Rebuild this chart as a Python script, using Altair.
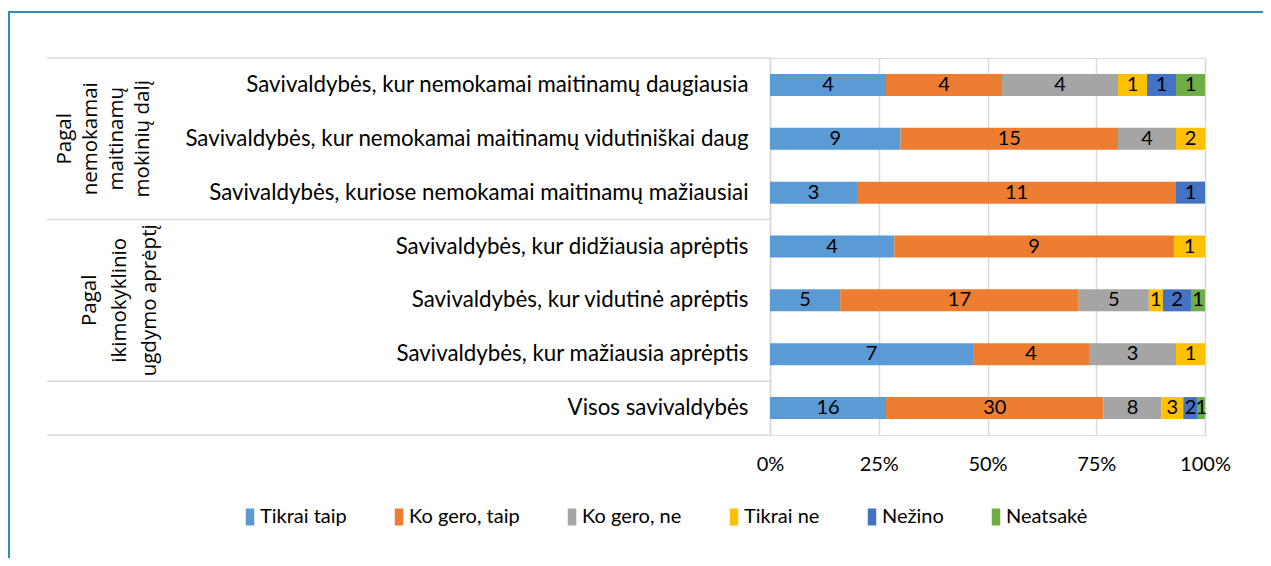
import altair as alt
import pandas as pd

rows = [
    "Savivaldybės, kur nemokamai maitinamų daugiausia",
    "Savivaldybės, kur nemokamai maitinamų vidutiniškai daug",
    "Savivaldybės, kuriose nemokamai maitinamų mažiausiai",
    "Savivaldybės, kur didžiausia aprėptis",
    "Savivaldybės, kur vidutinė  aprėptis",
    "Savivaldybės, kur mažiausia aprėptis",
    "Visos savivaldybės",
]
answers = ["Tikrai taip", "Ko gero, taip", "Ko gero, ne", "Tikrai ne", "Nežino", "Neatsakė"]
colors = ["#5B9BD5", "#ED7D31", "#A5A5A5", "#FFC000", "#4472C4", "#70AD47"]

tikrai_taip = [4, 9, 3, 4, 5, 7, 16]
ko_gero_taip = [4, 15, 11, 9, 17, 4, 30]
ko_gero_ne = [4, 4, 0, 0, 5, 3, 8]
tikrai_ne = [1, 2, 0, 1, 1, 1, 3]
nezino = [1, 0, 1, 0, 2, 0, 2]
neatsake = [1, 0, 0, 0, 1, 0, 1]

group1 = "Pagal\nnemokamai\nmaitinamų\nmokinių dalį"
group2 = "Pagal\nikimokyklinio\nugdymo aprėptį"
separator_rows = [rows[0], rows[3], rows[6]]

series = [tikrai_taip, ko_gero_taip, ko_gero_ne, tikrai_ne, nezino, neatsake]
records = []
for ai, (ans, vals) in enumerate(zip(answers, series)):
    for r, v in zip(rows, vals):
        records.append({"row": r, "answer": ans, "order": ai, "value": v})
df = pd.DataFrame(records)

FONT = "Lato"
GRID = "#D9D9D9"

yscale = alt.Scale(domain=rows, paddingInner=0, paddingOuter=0)
ysort = rows

base = alt.Chart(df).transform_stack(
    stack="value", groupby=["row"], as_=["x0", "x1"], offset="normalize",
    sort=[alt.SortField("order", order="ascending")]
)

bars = base.mark_bar(size=22).encode(
    y=alt.Y("row:N", scale=yscale, sort=ysort,
            axis=alt.Axis(title=None, ticks=False, domain=True, domainColor=GRID, domainWidth=1.5,
                          labelFont=FONT, labelFontSize=22.3, labelColor="#000000",
                          labelPadding=22, labelLimit=700, grid=False)),
    x=alt.X("x0:Q", scale=alt.Scale(domain=[0, 1], nice=False),
            axis=alt.Axis(title=None, values=[0, 0.25, 0.5, 0.75, 1], format=".0%",
                          ticks=False, domain=False, grid=True, gridColor=GRID, gridWidth=1.5,
                          labelFont=FONT, labelFontSize=20, labelColor="#000000",
                          labelPadding=19, labelFlush=False)),
    x2="x1:Q",
    color=alt.Color("answer:N", scale=alt.Scale(domain=answers, range=colors),
                    legend=alt.Legend(title=None, orient="none", direction="horizontal",
                                      legendX=-530, legendY=449,
                                      symbolType="M-0.5,-1H0.5V1H-0.5Z", symbolSize=289,
                                      symbolStrokeWidth=0, symbolOpacity=1,
                                      labelFont=FONT, labelFontSize=20, labelColor="#000000",
                                      labelOffset=0, columnPadding=42, labelLimit=300)),
    order=alt.Order("order:Q"),
)

labels = base.transform_filter("datum.value > 0").transform_calculate(
    mid="(datum.x0 + datum.x1) / 2"
).mark_text(font=FONT, fontSize=20, color="#000000", baseline="middle", align="center").encode(
    y=alt.Y("row:N", scale=yscale, sort=ysort),
    x=alt.X("mid:Q"),
    text=alt.Text("value:Q"),
)

sep_df = pd.DataFrame({"row": separator_rows})
seps = alt.Chart(sep_df).mark_rule(color=GRID, strokeWidth=1.5).encode(
    y=alt.Y("row:N", scale=yscale, sort=ysort, bandPosition=0),
    x=alt.value(-723), x2=alt.value(0),
)
bottom = alt.Chart(pd.DataFrame({"row": [rows[-1]]})).mark_rule(color=GRID, strokeWidth=1.5).encode(
    y=alt.Y("row:N", scale=yscale, sort=ysort, bandPosition=1),
    x=alt.value(-723), x2=alt.value(0),
)

grp1 = alt.Chart(pd.DataFrame({"row": [rows[1]], "label": [group1], "dx": [-705]})).mark_text(
    font="Open Sans", fontSize=20.5, angle=270, align="center", baseline="middle",
    lineBreak="\n", lineHeight=26, color="#000000").encode(
    y=alt.Y("row:N", scale=yscale, sort=ysort),
    x=alt.X("dx:Q", scale=None),
    text="label:N",
)
grp2 = alt.Chart(pd.DataFrame({"row": [rows[4]], "label": [group2], "dx": [-680]})).mark_text(
    font="Open Sans", fontSize=20.5, angle=270, align="center", baseline="middle",
    lineBreak="\n", lineHeight=30, color="#000000").encode(
    y=alt.Y("row:N", scale=yscale, sort=ysort),
    x=alt.X("dx:Q", scale=None),
    text="label:N",
)

frame_top = alt.Chart(pd.DataFrame({"a": [0]})).mark_rule(color="#2E8DB0", strokeWidth=2).encode(
    x=alt.value(-762), x2=alt.value(520), y=alt.value(-46)
)
frame_left = alt.Chart(pd.DataFrame({"a": [0]})).mark_rule(color="#2E8DB0", strokeWidth=2).encode(
    x=alt.value(-761), y=alt.value(-46), y2=alt.value(540)
)

chart = alt.layer(seps, bottom, bars, labels, grp1, grp2, frame_top, frame_left).properties(
    width=435, height=377,
    autosize=alt.AutoSizeParams(type="none"),
    padding={"left": 762, "top": 50, "right": 58, "bottom": 123},
).configure_view(stroke=None).configure(background="#FFFFFF")

chart.save("out.html", embed_options={"renderer": "svg", "actions": False})
